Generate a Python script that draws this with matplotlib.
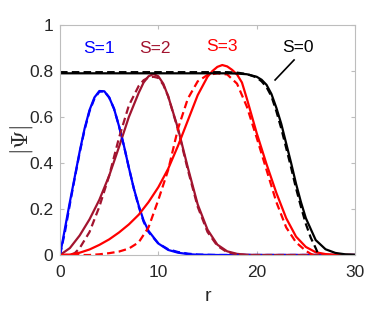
import numpy as np
import matplotlib
matplotlib.use("Agg")
import matplotlib.pyplot as plt

plt.rcParams['font.family'] = ['Liberation Sans', 'DejaVu Sans']
plt.rcParams['mathtext.fontset'] = 'cm'

# S=0
r_s0 = [0, 17, 18, 19, 20, 20.5, 21, 21.5, 22, 22.5, 23, 23.5, 24, 24.5, 25, 26, 27, 28, 29, 30]
psi_s0 = [0.79, 0.79, 0.789, 0.786, 0.775, 0.762, 0.74, 0.70, 0.64, 0.57, 0.485, 0.40,
          0.31, 0.23, 0.16, 0.065, 0.025, 0.009, 0.003, 0.001]
r_s0_tf = [0, 17, 18, 19, 20, 20.5, 21, 21.5, 22, 22.5, 23, 23.5, 24, 24.5, 25, 25.5, 26, 26.3]
psi_s0_tf = [0.795, 0.795, 0.793, 0.787, 0.772, 0.755, 0.73, 0.69, 0.625, 0.55, 0.465, 0.38,
             0.29, 0.21, 0.135, 0.075, 0.03, 0]

# S=1
r_s1 = [0, 0.5, 1, 1.5, 2, 2.5, 3, 3.5, 4, 4.5, 5, 5.5, 6, 6.5, 7, 7.5, 8, 8.5, 9,
        10, 11, 12, 13, 14, 16, 30]
psi_s1 = [0, 0.115, 0.23, 0.34, 0.45, 0.55, 0.63, 0.685, 0.713, 0.712, 0.685, 0.635, 0.56,
          0.475, 0.38, 0.29, 0.215, 0.15, 0.105, 0.05, 0.022, 0.01, 0.004, 0.001, 0, 0]
psi_s1_tf = [0, 0.10, 0.22, 0.335, 0.445, 0.545, 0.625, 0.68, 0.71, 0.712, 0.685, 0.635, 0.56,
             0.475, 0.38, 0.29, 0.21, 0.145, 0.10, 0.05, 0.025, 0.013, 0.006, 0.002, 0, 0]

# S=2
r_s2 = [0, 1, 2, 3, 4, 5, 6, 7, 8, 8.5, 9, 9.5, 10, 10.5, 11, 12, 13, 14, 15, 16, 17,
        18, 19, 20, 30]
psi_s2 = [0, 0.03, 0.085, 0.155, 0.24, 0.345, 0.47, 0.60, 0.705, 0.75, 0.777, 0.787, 0.777,
          0.745, 0.69, 0.55, 0.38, 0.22, 0.11, 0.045, 0.016, 0.005, 0.001, 0, 0]
r_s2_tf = [0, 1, 1.5, 2, 3, 4, 5, 6, 7, 8, 8.5, 9, 9.5, 10, 10.5, 11, 12, 13, 14, 15, 16,
           17, 18, 19, 30]
psi_s2_tf = [0, 0, 0.008, 0.03, 0.10, 0.21, 0.345, 0.51, 0.65, 0.735, 0.76, 0.772, 0.775,
             0.77, 0.74, 0.69, 0.545, 0.37, 0.21, 0.10, 0.04, 0.012, 0.003, 0, 0]

# S=3
r_s3 = [0, 1, 2, 3, 4, 5, 6, 7, 8, 9, 10, 11, 12, 13, 14, 15, 15.5, 16, 16.5, 17, 17.5,
        18, 18.5, 19, 20, 21, 22, 23, 24, 25, 26, 27, 28, 30]
psi_s3 = [0, 0.002, 0.01, 0.024, 0.044, 0.068, 0.098, 0.133, 0.175, 0.23, 0.295, 0.375, 0.475,
          0.585, 0.695, 0.775, 0.80, 0.818, 0.826, 0.82, 0.805, 0.785, 0.75, 0.68, 0.53,
          0.395, 0.27, 0.16, 0.08, 0.035, 0.012, 0.004, 0.001, 0]
r_s3_tf = [0, 3, 4, 5, 6, 7, 8, 9, 10, 11, 12, 13, 14, 15, 16, 17, 18, 19, 20, 21, 22,
           23, 24, 25, 25.5, 25.8]
psi_s3_tf = [0, 0, 0.003, 0.008, 0.015, 0.028, 0.055, 0.12, 0.24, 0.37, 0.55, 0.68, 0.755,
             0.783, 0.79, 0.785, 0.745, 0.645, 0.51, 0.37, 0.23, 0.12, 0.055, 0.018, 0.005, 0]

maroon = '#A2142F'
lw = 1.6
dash = (3.4, 1.9)

fig = plt.figure(figsize=(3.92, 3.10), dpi=100)
ax = fig.add_axes([0.1531, 0.1774, 0.7526, 0.7419])

ax.plot(r_s1, psi_s1, color='blue', lw=lw)
ax.plot(r_s2, psi_s2, color=maroon, lw=lw)
ax.plot(r_s1, psi_s1_tf, color='blue', lw=lw, ls='--', dashes=dash)
ax.plot(r_s2_tf, psi_s2_tf, color=maroon, lw=lw, ls='--', dashes=dash)
ax.plot(r_s3, psi_s3, color='red', lw=lw)
ax.plot(r_s3_tf, psi_s3_tf, color='red', lw=lw, ls='--', dashes=dash)
ax.plot(r_s0, psi_s0, color='black', lw=lw)
ax.plot(r_s0_tf, psi_s0_tf, color='black', lw=lw, ls='--', dashes=dash)

ax.text(3.97, 0.90, 'S=1', color='blue', fontsize=12.5, ha='center', va='center')
ax.text(9.66, 0.90, 'S=2', color=maroon, fontsize=12.5, ha='center', va='center')
ax.text(16.5, 0.905, 'S=3', color='red', fontsize=12.5, ha='center', va='center')
ax.text(24.2, 0.902, 'S=0', color='black', fontsize=12.5, ha='center', va='center')
ax.plot([21.87, 23.8], [0.761, 0.848], color='black', lw=1.2)

ax.set_xlim(0, 30)
ax.set_ylim(0, 1)
ax.set_xticks([0, 10, 20, 30])
ax.set_yticks([0, 0.2, 0.4, 0.6, 0.8, 1])
ax.set_yticklabels(['0', '0.2', '0.4', '0.6', '0.8', '1'])

for s in ax.spines.values():
    s.set_color('#bdbdbd')
    s.set_linewidth(0.8)
ax.tick_params(direction='in', length=3, width=0.8, color='#bdbdbd',
               labelcolor='#262626', labelsize=12.5, top=True, right=True)
ax.tick_params(axis='x', pad=7)
ax.tick_params(axis='y', pad=5)

ax.set_xlabel('r', fontsize=14, color='#262626', va='center')
ax.set_ylabel(r'$|\Psi|$', fontsize=17, color='#262626', va='center')
ax.xaxis.set_label_coords(0.5, -0.182)
ax.yaxis.set_label_coords(-0.129, 0.5)

fig.savefig('out.png', dpi=100)
